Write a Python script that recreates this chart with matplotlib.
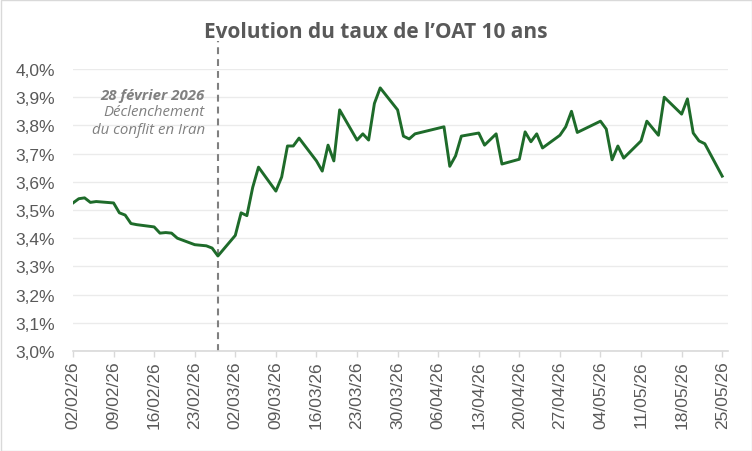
# OAT 10 ans - evolution du taux (fev. - mai 2026)

import pandas as pd
import matplotlib
matplotlib.use("Agg")
import matplotlib.pyplot as plt
import matplotlib.ticker as mticker
from matplotlib.patches import Rectangle

# données (jours ouvrés)
dates = [
    "2026-02-02", "2026-02-03", "2026-02-04", "2026-02-05", "2026-02-06",
    "2026-02-09", "2026-02-10", "2026-02-11", "2026-02-12", "2026-02-13",
    "2026-02-16", "2026-02-17", "2026-02-18", "2026-02-19", "2026-02-20",
    "2026-02-23", "2026-02-24", "2026-02-25", "2026-02-26", "2026-02-27",
    "2026-03-02", "2026-03-03", "2026-03-04", "2026-03-05", "2026-03-06",
    "2026-03-09", "2026-03-10", "2026-03-11", "2026-03-12", "2026-03-13",
    "2026-03-16", "2026-03-17", "2026-03-18", "2026-03-19", "2026-03-20",
    "2026-03-23", "2026-03-24", "2026-03-25", "2026-03-26", "2026-03-27",
    "2026-03-30", "2026-03-31", "2026-04-01", "2026-04-02",
    "2026-04-07", "2026-04-08", "2026-04-09", "2026-04-10",
    "2026-04-13", "2026-04-14", "2026-04-15", "2026-04-16", "2026-04-17",
    "2026-04-20", "2026-04-21", "2026-04-22", "2026-04-23", "2026-04-24",
    "2026-04-27", "2026-04-28", "2026-04-29", "2026-04-30",
    "2026-05-04", "2026-05-05", "2026-05-06", "2026-05-07", "2026-05-08",
    "2026-05-11", "2026-05-12", "2026-05-13", "2026-05-14", "2026-05-15",
    "2026-05-18", "2026-05-19", "2026-05-20", "2026-05-21", "2026-05-22",
    "2026-05-25",
]
taux = [
    3.525, 3.540, 3.543, 3.527, 3.530,
    3.525, 3.490, 3.482, 3.452, 3.448,
    3.440, 3.418, 3.420, 3.418, 3.400,
    3.377, 3.375, 3.373, 3.365, 3.337,
    3.410, 3.490, 3.480, 3.580, 3.652,
    3.567, 3.617, 3.727, 3.727, 3.755,
    3.674, 3.638, 3.730, 3.674, 3.855,
    3.748, 3.770, 3.748, 3.878, 3.933,
    3.855, 3.762, 3.752, 3.770,
    3.795, 3.655, 3.692, 3.762,
    3.773, 3.730, 3.750, 3.770, 3.663,
    3.680, 3.777, 3.742, 3.770, 3.720,
    3.765, 3.795, 3.850, 3.775,
    3.815, 3.787, 3.678, 3.727, 3.684,
    3.745, 3.815, 3.790, 3.765, 3.900,
    3.840, 3.894, 3.773, 3.745, 3.735,
    3.620,
]
tick_dates = pd.date_range("2026-02-02", "2026-05-25", freq="7D")
date_conflit = pd.Timestamp("2026-02-27")

x = pd.to_datetime(dates)

gris_txt = "#595959"
gris_axe = "#d9d9d9"

fig = plt.figure(figsize=(7.52, 4.52), dpi=100)
ax = fig.add_axes([73 / 752, 100 / 452, (728 - 73) / 752, (382 - 100) / 452])

ax.plot(x, taux, color="#1e6b2a", lw=2.1, solid_joinstyle="round", zorder=3)

# ligne verticale : debut du conflit
ax.plot([date_conflit, date_conflit], [3.0, 4.1], color="#808080", lw=1.5,
        linestyle=(0, (3.3, 2.4)), clip_on=False, zorder=2)
ax.annotate("28 février 2026", xy=(date_conflit, 3.908), xytext=(-13, 0),
            textcoords="offset pixels", ha="right", va="center",
            fontsize=10.8, fontweight="bold", fontstyle="italic",
            family="Open Sans", color="#808080")
ax.annotate("Déclenchement", xy=(date_conflit, 3.848), xytext=(-13, 0),
            textcoords="offset pixels", ha="right", va="center",
            fontsize=10.8, fontstyle="italic", family="Open Sans", color="#808080")
ax.annotate("du conflit en Iran", xy=(date_conflit, 3.787), xytext=(-13, 0),
            textcoords="offset pixels", ha="right", va="center",
            fontsize=10.8, fontstyle="italic", family="Open Sans", color="#808080")

ax.set_xlim(pd.Timestamp("2026-02-02"), pd.Timestamp("2026-05-26"))
ax.set_ylim(3.0, 4.0)
ax.set_yticks([3.0 + i * 0.1 for i in range(11)])
ax.yaxis.set_major_formatter(mticker.FuncFormatter(lambda v, p: f"{v:.1f}%".replace(".", ",")))
ax.set_xticks(tick_dates)
ax.set_xticklabels([d.strftime("%d/%m/%y") for d in tick_dates], rotation=90)

ax.grid(axis="y", color="#ebebeb", lw=1)
ax.set_axisbelow(True)
for s in ["top", "right", "left"]:
    ax.spines[s].set_visible(False)
ax.spines["bottom"].set_color(gris_axe)
ax.spines["bottom"].set_linewidth(1.2)
ax.tick_params(axis="y", length=0, pad=13, labelsize=12.5, labelcolor=gris_txt)
ax.tick_params(axis="x", length=4, width=1, color=gris_axe, pad=3,
               labelsize=12.5, labelcolor=gris_txt)
for lab in ax.get_xticklabels() + ax.get_yticklabels():
    lab.set_family("Liberation Sans")

fig.text(0.5, 1 - 32 / 452, "Evolution du taux de l’OAT 10 ans", ha="center", va="center",
         fontsize=15, fontweight="bold", family="Open Sans", color=gris_txt)

fig.patches.append(Rectangle((0.5 / 752, 0.5 / 452), 1 - 1 / 752, 1 - 1 / 452,
                             transform=fig.transFigure, fill=False,
                             edgecolor=gris_axe, lw=1))

fig.savefig("out.png", dpi=100)
